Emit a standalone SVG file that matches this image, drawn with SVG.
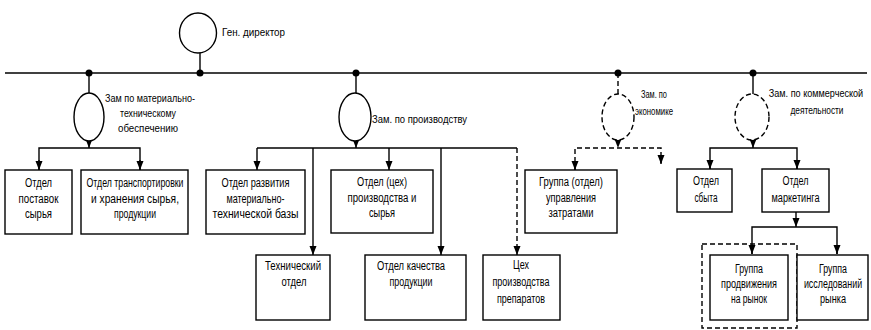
<svg xmlns="http://www.w3.org/2000/svg" width="871" height="330" viewBox="0 0 871 330">
  <style>
    .ln { fill: none; stroke: #000; stroke-width: 1.4; }
    .dash { stroke-dasharray: 5 3; }
    .box { fill: #fff; stroke: #000; stroke-width: 1.4; }
    .ring { fill: #fff; stroke: #000; stroke-width: 1.4; }
    .dot { fill: #000; }
    text { font-family: "Liberation Sans", Arial, sans-serif; fill: #000; }
    .t { font-size: 12.5px; text-anchor: middle; }
    .lbl { font-size: 11.5px; }
    .mid { text-anchor: middle; }
  </style>
  <defs>
    <marker id="arr" markerUnits="userSpaceOnUse" markerWidth="9" markerHeight="8" refX="9" refY="3.5" orient="auto">
      <path d="M0,0 L9,3.5 L0,7 z" fill="#000"/>
    </marker>
  </defs>
  <rect width="871" height="330" fill="#fff"/>

  <!-- connectors -->
  <g id="connectors">
    <!-- main bus -->
    <line class="ln" x1="5" y1="73" x2="867" y2="73"/>
    <line class="ln" x1="200" y1="53" x2="200" y2="73"/>
    <line class="ln" x1="89" y1="73" x2="89" y2="93"/>
    <line class="ln" x1="356" y1="73" x2="356" y2="93"/>
    <line class="ln dash" x1="618" y1="73" x2="618" y2="94"/>
    <line class="ln" x1="753" y1="73" x2="753" y2="94"/>
    <circle class="dot" cx="200" cy="73" r="3.5"/>
    <circle class="dot" cx="89" cy="73" r="3.5"/>
    <circle class="dot" cx="356" cy="73" r="3.5"/>
    <circle class="dot" cx="618" cy="73" r="3.5"/>
    <circle class="dot" cx="753" cy="73" r="3.5"/>

    <!-- material-technical branch -->
    <line class="ln" x1="89" y1="140" x2="89" y2="148" marker-end="url(#arr)"/>
    <polyline class="ln" points="39,170 39,148 140,148 140,170"/>
    <line class="ln" x1="39" y1="160" x2="39" y2="170" marker-end="url(#arr)"/>
    <line class="ln" x1="140" y1="160" x2="140" y2="170" marker-end="url(#arr)"/>

    <!-- production branch -->
    <line class="ln" x1="356" y1="140" x2="356" y2="148" marker-end="url(#arr)"/>
    <line class="ln" x1="257" y1="148" x2="517" y2="148"/>
    <line class="ln" x1="257" y1="148" x2="257" y2="170" marker-end="url(#arr)"/>
    <line class="ln" x1="313" y1="148" x2="313" y2="255" marker-end="url(#arr)"/>
    <line class="ln" x1="389" y1="148" x2="389" y2="170" marker-end="url(#arr)"/>
    <line class="ln" x1="441" y1="148" x2="441" y2="255" marker-end="url(#arr)"/>
    <line class="ln dash" x1="517" y1="148" x2="517" y2="255" marker-end="url(#arr)"/>

    <!-- economics branch -->
    <line class="ln dash" x1="618" y1="140" x2="618" y2="148" marker-end="url(#arr)"/>
    <polyline class="ln dash" points="575,170 575,148 661,148 661,163"/>
    <line class="ln" x1="575" y1="162" x2="575" y2="170" marker-end="url(#arr)"/>
    <line class="ln" x1="661" y1="155" x2="661" y2="164" marker-end="url(#arr)"/>

    <!-- commercial branch -->
    <line class="ln" x1="753" y1="140" x2="753" y2="148" marker-end="url(#arr)"/>
    <polyline class="ln" points="710,169 710,148 797,148 797,169"/>
    <line class="ln" x1="710" y1="160" x2="710" y2="169" marker-end="url(#arr)"/>
    <line class="ln" x1="797" y1="160" x2="797" y2="169" marker-end="url(#arr)"/>

    <!-- marketing sub-branch -->
    <line class="ln" x1="796" y1="212" x2="796" y2="227" marker-end="url(#arr)"/>
    <polyline class="ln" points="752,254 752,227 837,227 837,254"/>
    <line class="ln" x1="752" y1="245" x2="752" y2="254" marker-end="url(#arr)"/>
    <line class="ln" x1="837" y1="245" x2="837" y2="254" marker-end="url(#arr)"/>
  </g>

  <!-- executives -->
  <g id="gen-director">
    <ellipse class="ring" cx="198" cy="33" rx="18.5" ry="20"/>
    <text class="lbl" x="222" y="36" textLength="63" lengthAdjust="spacingAndGlyphs">Ген. директор</text>
  </g>
  <g id="deputy-supply">
    <ellipse class="ring" cx="89" cy="117" rx="15" ry="24"/>
    <text class="lbl mid" x="150" y="102" textLength="90" lengthAdjust="spacingAndGlyphs">Зам по материально-</text>
    <text class="lbl mid" x="148" y="117" textLength="56" lengthAdjust="spacingAndGlyphs">техническому</text>
    <text class="lbl mid" x="148" y="132" textLength="60" lengthAdjust="spacingAndGlyphs">обеспечению</text>
  </g>
  <g id="deputy-production">
    <ellipse class="ring" cx="355" cy="117" rx="16" ry="24"/>
    <text class="lbl" x="372" y="123" textLength="95" lengthAdjust="spacingAndGlyphs">Зам. по производству</text>
  </g>
  <g id="deputy-economics">
    <ellipse class="ring dash" cx="618" cy="117" rx="16" ry="23"/>
    <text class="lbl mid" x="654" y="98" textLength="26" lengthAdjust="spacingAndGlyphs">Зам. по</text>
    <text class="lbl mid" x="654" y="115" textLength="38" lengthAdjust="spacingAndGlyphs">экономике</text>
  </g>
  <g id="deputy-commerce">
    <ellipse class="ring dash" cx="752" cy="117" rx="17" ry="23"/>
    <text class="lbl mid" x="0" y="97" transform="translate(816 0) scale(0.79 1)">Зам. по коммерческой</text>
    <text class="lbl mid" x="817" y="114" textLength="53" lengthAdjust="spacingAndGlyphs">деятельности</text>
  </g>

  <!-- departments -->
  <g id="dept-supply">
    <rect class="box" x="5" y="170" width="67" height="64"/>
    <text class="t" x="38.5" y="187" textLength="27" lengthAdjust="spacingAndGlyphs">Отдел</text>
    <text class="t" x="38.5" y="203" textLength="40" lengthAdjust="spacingAndGlyphs">поставок</text>
    <text class="t" x="38.5" y="218" textLength="27" lengthAdjust="spacingAndGlyphs">сырья</text>
  </g>
  <g id="dept-transport">
    <rect class="box" x="81" y="170" width="107" height="64"/>
    <text class="t" x="135" y="187" textLength="97" lengthAdjust="spacingAndGlyphs">Отдел транспортировки</text>
    <text class="t" x="135" y="203" textLength="88" lengthAdjust="spacingAndGlyphs">и хранения сырья,</text>
    <text class="t" x="135" y="218" textLength="42" lengthAdjust="spacingAndGlyphs">продукции</text>
  </g>
  <g id="dept-base">
    <rect class="box" x="206" y="170" width="99" height="64"/>
    <text class="t" x="255.5" y="187" textLength="68" lengthAdjust="spacingAndGlyphs">Отдел развития</text>
    <text class="t" x="255.5" y="203" textLength="58" lengthAdjust="spacingAndGlyphs">материально-</text>
    <text class="t" x="255.5" y="218" textLength="86" lengthAdjust="spacingAndGlyphs">технической базы</text>
  </g>
  <g id="dept-workshop">
    <rect class="box" x="331" y="170" width="102" height="63"/>
    <text class="t" x="382" y="186" textLength="50" lengthAdjust="spacingAndGlyphs">Отдел (цех)</text>
    <text class="t" x="382" y="202" textLength="69" lengthAdjust="spacingAndGlyphs">производства и</text>
    <text class="t" x="382" y="217" textLength="26" lengthAdjust="spacingAndGlyphs">сырья</text>
  </g>
  <g id="dept-technical">
    <rect class="box" x="256" y="255" width="74" height="65"/>
    <text class="t" x="293" y="270" textLength="56" lengthAdjust="spacingAndGlyphs">Технический</text>
    <text class="t" x="294" y="286" textLength="25" lengthAdjust="spacingAndGlyphs">отдел</text>
  </g>
  <g id="dept-quality">
    <rect class="box" x="365" y="255" width="101" height="65"/>
    <text class="t" x="411" y="270" textLength="68" lengthAdjust="spacingAndGlyphs">Отдел качества</text>
    <text class="t" x="411" y="286" textLength="43" lengthAdjust="spacingAndGlyphs">продукции</text>
  </g>
  <g id="dept-drugs">
    <rect class="box" x="483" y="255" width="77" height="65"/>
    <text class="t" x="521" y="269" textLength="16" lengthAdjust="spacingAndGlyphs">Цех</text>
    <text class="t" x="521" y="286" textLength="57" lengthAdjust="spacingAndGlyphs">производства</text>
    <text class="t" x="521" y="303" textLength="48" lengthAdjust="spacingAndGlyphs">препаратов</text>
  </g>
  <g id="dept-costs">
    <rect class="box" x="525" y="170" width="92" height="63"/>
    <text class="t" x="571" y="186" textLength="64" lengthAdjust="spacingAndGlyphs">Группа (отдел)</text>
    <text class="t" x="571" y="202" textLength="50" lengthAdjust="spacingAndGlyphs">управления</text>
    <text class="t" x="571" y="217" textLength="45" lengthAdjust="spacingAndGlyphs">затратами</text>
  </g>
  <g id="dept-sales">
    <rect class="box" x="677" y="169" width="55" height="43"/>
    <text class="t" x="706" y="185" textLength="26" lengthAdjust="spacingAndGlyphs">Отдел</text>
    <text class="t" x="706" y="202" textLength="23" lengthAdjust="spacingAndGlyphs">сбыта</text>
  </g>
  <g id="dept-marketing">
    <rect class="box" x="762" y="169" width="67" height="43"/>
    <text class="t" x="795.5" y="185" textLength="26" lengthAdjust="spacingAndGlyphs">Отдел</text>
    <text class="t" x="795.5" y="202" textLength="48" lengthAdjust="spacingAndGlyphs">маркетинга</text>
  </g>
  <g id="group-promo-frame">
    <rect class="ln dash" x="702" y="244" width="95" height="84"/>
  </g>
  <g id="group-promo">
    <rect class="box" x="710" y="255" width="78" height="65"/>
    <text class="t" x="749" y="273" textLength="28" lengthAdjust="spacingAndGlyphs">Группа</text>
    <text class="t" x="749" y="288" textLength="56" lengthAdjust="spacingAndGlyphs">продвижения</text>
    <text class="t" x="749" y="303" textLength="36" lengthAdjust="spacingAndGlyphs">на рынок</text>
  </g>
  <g id="group-research">
    <rect class="box" x="797" y="255" width="71" height="65"/>
    <text class="t" x="833" y="273" textLength="28" lengthAdjust="spacingAndGlyphs">Группа</text>
    <text class="t" x="0" y="288" transform="translate(833 0) scale(0.71 1)">исследований</text>
    <text class="t" x="833" y="303" textLength="26" lengthAdjust="spacingAndGlyphs">рынка</text>
  </g>
</svg>
